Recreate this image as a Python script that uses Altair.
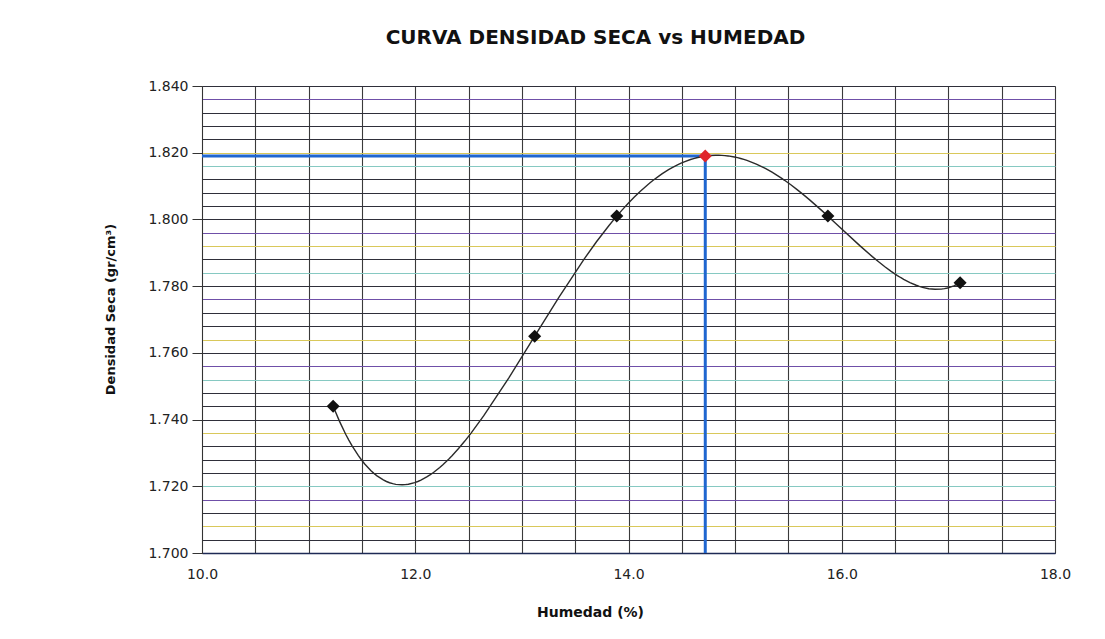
import altair as alt
import pandas as pd

# ---- data ----
humedad = [11.23, 13.12, 13.89, 14.72, 15.87, 17.11]
densidad = [1.744, 1.765, 1.801, 1.819, 1.801, 1.781]
optimo = [False, False, False, True, False, False]

hum_opt = 14.72
dens_opt = 1.819
x_start = 10.0
y_base = 1.700

x_ticks = [10.0 + 0.5 * i for i in range(17)]
y_ticks = [round(1.700 + 0.004 * i, 3) for i in range(36)]

df = pd.DataFrame({"humedad": humedad, "densidad": densidad, "optimo": optimo})
ref = pd.DataFrame({"x0": [x_start], "xopt": [hum_opt], "y0": [y_base], "yopt": [dens_opt]})

FONT = "DejaVu Sans"

grid_color = {
    "condition": [
        {"test": "round((datum.value-1.7)/0.004) % 7 == 2", "value": "#d9c85a"},
        {"test": "round((datum.value-1.7)/0.004) % 8 == 5", "value": "#86c9c2"},
        {"test": "round((datum.value-1.7)/0.004) % 5 == 4", "value": "#6f4fa8"},
    ],
    "value": "#2f2f3a",
}

xscale = alt.Scale(domain=[10, 18], nice=False, zero=False)
yscale = alt.Scale(domain=[1.700, 1.840], nice=False, zero=False)

xaxis = alt.Axis(
    values=x_ticks,
    labelExpr="round(datum.value*10) % 20 == 0 ? format(datum.value, '.1f') : ''",
    labelOverlap=False, labelFlush=False, labelBound=False,
    grid=True, gridColor="#3a3a3a", gridWidth=1.1,
    ticks=False, labelPadding=14, labelFontSize=14, labelFont=FONT, labelColor="#222",
    domainColor="#1e2a55", domainWidth=1.5,
    title="Humedad (%)", titleFont=FONT, titleFontSize=14, titleFontWeight="bold",
    titleColor="#111", titleX=388, titleY=59, titleBaseline="middle", titleAlign="center",
)
yaxis = alt.Axis(
    values=y_ticks,
    labelExpr="round(datum.value*1000) % 20 == 0 ? format(datum.value, '.3f') : ''",
    labelOverlap=False, labelFlush=False, labelBound=False,
    grid=True, gridColor=grid_color, gridWidth=1.1,
    tickColor={"condition": {"test": "round(datum.value*1000) % 20 == 0", "value": "#333"},
               "value": "transparent"},
    tickSize=10, labelPadding=4, labelFontSize=14, labelFont=FONT, labelColor="#222",
    domainColor="#333",
    title="Densidad Seca (gr/cm³)", titleFont=FONT, titleFontSize=13, titleFontWeight="bold",
    titleColor="#111", titleX=-92, titleY=223, titleAngle=-90, titleAlign="center",
    titleBaseline="middle",
)

base = alt.Chart(df)

curve = base.transform_regression(
    "humedad", "densidad", method="poly", order=5
).mark_line(color="#2a2a2a", strokeWidth=1.4).encode(
    x=alt.X("humedad:Q", scale=xscale, axis=xaxis),
    y=alt.Y("densidad:Q", scale=yscale, axis=yaxis),
)

hline = alt.Chart(ref).mark_rule(color="#1f66d0", strokeWidth=3).encode(
    x=alt.X("x0:Q", scale=xscale, axis=xaxis), x2="xopt:Q",
    y=alt.Y("yopt:Q", scale=yscale, axis=yaxis)
)
vline = alt.Chart(ref).mark_rule(color="#1f66d0", strokeWidth=3).encode(
    x=alt.X("xopt:Q", scale=xscale, axis=xaxis),
    y=alt.Y("y0:Q", scale=yscale, axis=yaxis), y2="yopt:Q"
)

points = base.mark_point(shape="diamond", filled=True, size=170, opacity=1).encode(
    x=alt.X("humedad:Q", scale=xscale, axis=xaxis),
    y=alt.Y("densidad:Q", scale=yscale, axis=yaxis),
    color=alt.condition("datum.optimo", alt.value("#e0262a"), alt.value("#111111")),
)

chart = alt.layer(hline, vline, curve, points).properties(
    width=853,
    height=467,
    autosize=alt.AutoSizeParams(type="none"),
    padding={"left": 194, "top": 78, "right": 40, "bottom": 70},
    title=alt.TitleParams(
        "CURVA DENSIDAD SECA vs HUMEDAD", font=FONT, fontSize=20, fontWeight="bold",
        color="#111", anchor="middle", dx=-33, offset=31,
    ),
).configure_view(stroke="#333", strokeWidth=1.2).configure(background="white")

chart.save("out.html", embed_options={"renderer": "svg", "actions": False})
